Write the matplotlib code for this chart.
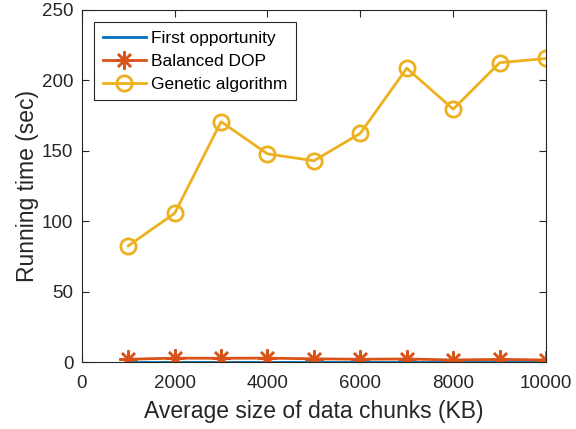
import matplotlib.pyplot as plt

plt.rcParams['font.family'] = ['Liberation Sans', 'DejaVu Sans']

chunk_size = [1000, 2000, 3000, 4000, 5000, 6000, 7000, 8000, 9000, 10000]
first_opp = [0.3, 0.3, 0.3, 0.3, 0.3, 0.3, 0.3, 0.3, 0.3, 0.3]
balanced_dop = [2.0, 2.8, 2.7, 2.8, 2.3, 2.0, 2.2, 1.5, 1.9, 1.5]
genetic = [82.5, 105.6, 170.6, 147.8, 142.9, 162.4, 208.6, 179.5, 212.5, 215.5]

c_blue = (0, 0.447, 0.741)
c_red = (0.85, 0.325, 0.098)
c_yellow = (0.929, 0.694, 0.125)
axcol = (0.15, 0.15, 0.15)

fig = plt.figure(figsize=(5.76, 4.29), dpi=100)
ax = fig.add_axes([0.142, 0.156, 0.806, 0.821])

ax.plot(chunk_size, first_opp, color=c_blue, lw=2, label='First opportunity')
ax.plot(chunk_size, balanced_dop, color=c_red, lw=2, marker=(8, 2, 0), ms=13,
        mew=1.8, label='Balanced DOP')
ax.plot(chunk_size, genetic, color=c_yellow, lw=2, marker='o', ms=11,
        mfc='none', mew=2, label='Genetic algorithm')

ax.set_xlim(0, 10000)
ax.set_ylim(0, 250)
ax.set_xticks(range(0, 10001, 2000))
ax.set_yticks(range(0, 251, 50))
ax.tick_params(direction='in', top=True, right=True, labelsize=13.5,
               colors=axcol, length=5)
ax.tick_params(axis='x', pad=9)
ax.tick_params(axis='y', pad=6)
for s in ax.spines.values():
    s.set_color(axcol)
    s.set_linewidth(0.8)

ax.set_xlabel('Average size of data chunks (KB)', fontsize=16.5, color=axcol,
              labelpad=6)
ax.set_ylabel('Running time (sec)', fontsize=16.5, color=axcol, labelpad=2)

leg = ax.legend(loc='upper left', fontsize=12.5, fancybox=False,
                edgecolor=axcol, framealpha=1, handlelength=2.5,
                borderaxespad=0.7, labelspacing=0.45, borderpad=0.5,
                handletextpad=0.3)
leg.get_frame().set_linewidth(0.8)

fig.savefig('out.png', dpi=100)
